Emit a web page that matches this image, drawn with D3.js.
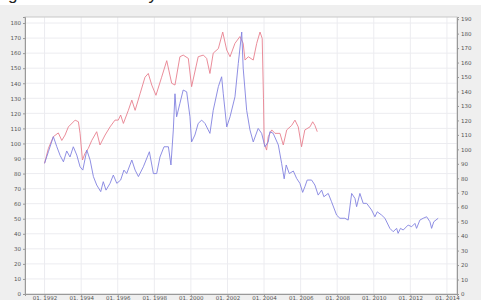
<!DOCTYPE html>
<html>
<head>
<meta charset="utf-8">
<script src="https://cdn.jsdelivr.net/npm/d3@7"></script>
<style>
  body { margin: 0; background: #efefef; }
  svg { display: block; }
  .tick text { font-family: "DejaVu Sans", sans-serif; font-size: 5.5px; fill: #555; }
</style>
</head>
<body>
<svg id="main"></svg>
<script>
// series data (decimal year, value)
let redYears = [1992.0, 1992.21, 1992.48, 1992.75, 1992.94, 1993.12, 1993.3, 1993.67, 1993.85, 1993.94,
  1994.07, 1994.21, 1994.39, 1994.58, 1994.85, 1995.03, 1995.31, 1995.58, 1995.85, 1996.03,
  1996.16, 1996.31, 1996.58, 1996.77, 1996.95, 1997.22, 1997.49, 1997.67, 1997.86, 1998.09,
  1998.4, 1998.68, 1998.95, 1999.13, 1999.4, 1999.58, 1999.86, 2000.04, 2000.4, 2000.68,
  2000.86, 2001.04, 2001.22, 2001.5, 2001.74, 2001.96, 2002.14, 2002.41, 2002.68, 2002.86,
  2002.96, 2003.14, 2003.41, 2003.6, 2003.78, 2003.9, 2003.97, 2004.01, 2004.14, 2004.23,
  2004.42, 2004.6, 2004.87, 2005.05, 2005.24, 2005.51, 2005.69, 2005.87, 2006.05, 2006.23,
  2006.51, 2006.66, 2006.78, 2006.91]
let redValues = [86.8, 96.7, 104.5, 107, 102, 105.6, 111, 115.5, 114.4, 106.7,
  89, 93.4, 96.7, 102, 107.8, 99, 105.6, 111, 115.5, 115.5,
  118.9, 113.3, 122, 128.8, 122, 133, 144, 146.5, 138.8, 132,
  144, 155, 140, 138.8, 157.6, 158.7, 156.5, 137.7, 157.6, 158.7,
  156.5, 146.5, 160, 163, 174, 162, 157.6, 166.5, 171, 166.5,
  155.4, 157.6, 155.4, 166.5, 174, 169.8, 130, 100, 95.6, 104.5,
  109, 106.7, 106.7, 99, 109, 112, 115.5, 111, 97.8, 109,
  111, 114.4, 112, 107.8]

let blueYears = [1992.0, 1992.21, 1992.48, 1992.67, 1992.85, 1993.03, 1993.21, 1993.39, 1993.57, 1993.76,
  1993.94, 1994.09, 1994.31, 1994.49, 1994.67, 1994.85, 1995.07, 1995.21, 1995.36, 1995.58,
  1995.76, 1995.95, 1996.16, 1996.34, 1996.49, 1996.77, 1996.95, 1997.13, 1997.4, 1997.73,
  1997.95, 1998.13, 1998.31, 1998.53, 1998.77, 1998.91, 1999.04, 1999.13, 1999.22, 1999.4,
  1999.58, 1999.77, 1999.95, 2000.04, 2000.22, 2000.4, 2000.59, 2000.77, 2001.04, 2001.22,
  2001.5, 2001.68, 2001.77, 2001.96, 2002.14, 2002.41, 2002.59, 2002.78, 2002.86, 2003.05,
  2003.23, 2003.41, 2003.68, 2003.87, 2004.05, 2004.23, 2004.32, 2004.5, 2004.78, 2004.96,
  2005.1, 2005.21, 2005.38, 2005.6, 2005.78, 2005.96, 2006.11, 2006.23, 2006.36, 2006.6,
  2006.78, 2006.96, 2007.15, 2007.27, 2007.51, 2007.69, 2007.97, 2008.15, 2008.42, 2008.6,
  2008.79, 2008.97, 2009.06, 2009.24, 2009.42, 2009.61, 2009.88, 2010.06, 2010.19, 2010.43,
  2010.61, 2010.88, 2011.06, 2011.25, 2011.33, 2011.46, 2011.61, 2011.88, 2012.07, 2012.25,
  2012.34, 2012.52, 2012.7, 2012.89, 2013.07, 2013.16, 2013.28, 2013.52]
let blueValues = [86.8, 94.5, 104.5, 97.8, 92, 87.8, 95, 91, 97.8, 92.3,
  84.5, 82.3, 95.6, 89, 78, 72.4, 68, 74.6, 69, 73.5,
  79, 73.5, 75.7, 82.3, 80, 89, 82.3, 78, 84.5, 94.5,
  80, 80, 91, 97.8, 97.8, 85.7, 109, 133, 117.7, 126.6,
  135.5, 134.3, 117.7, 101, 105.6, 113.3, 115.5, 113.3, 106.7, 122,
  137.7, 144.3, 133, 111, 117.7, 131, 153, 174, 150, 122,
  109, 101, 110, 106.7, 97.8, 101, 107.8, 106.7, 99, 86.8,
  76.5, 85.7, 80, 81.7, 76.8, 73.5, 67.5, 71.2, 75.7, 75.7,
  72.4, 65.7, 69, 64.6, 66.8, 61.3, 52.4, 50.3, 50.3, 49.1,
  66.8, 63.5, 58, 66.8, 60.2, 60.2, 55.8, 51.3, 54.6, 52.4,
  50.3, 43.6, 41.4, 43.6, 40.3, 43.6, 42.5, 45.8, 44.7, 46.9,
  43.6, 49.1, 50.3, 51.3, 48, 43.6, 48, 50.3]

let xTickYears = [1992, 1994, 1996, 1998, 2000, 2002, 2004, 2006, 2008, 2010, 2012, 2014]
let leftTicks = d3.range(0, 181, 10)
let rightTicks = d3.range(0, 191, 10)

let width = 481
let height = 300
let plotLeft = 25, plotRight = 457, plotTop = 17, plotBottom = 294

let svg = d3.select('#main').attr('width', width).attr('height', height)

// decimal year -> Date
const toDate = y => {
    let yr = Math.floor(y)
    let start = new Date(yr, 0, 1), end = new Date(yr + 1, 0, 1)
    return new Date(start.getTime() + (y - yr) * (end - start))
}

let xScale = d3.scaleTime()
    .domain([toDate(1990.93), toDate(2014.55)])
    .range([plotLeft, plotRight])
let yLeft = d3.scaleLinear().domain([0, 184]).range([plotBottom, plotTop])
let yRight = d3.scaleLinear().domain([0, 191.5]).range([plotBottom, plotTop])

// background + title strip
svg.append('rect').attr('width', width).attr('height', height).attr('fill', '#efefef')
svg.append('rect').attr('width', width).attr('height', 5).attr('fill', '#fff')
svg.append('text')
    .attr('x', 0).attr('y', 0)
    .attr('font-family', 'Liberation Sans, sans-serif')
    .attr('font-size', 17)
    .attr('fill', '#222')
    .attr('textLength', 157)
    .attr('lengthAdjust', 'spacing')
    .text('Figure 1. Rebased index monthly')

svg.append('rect')
    .attr('x', plotLeft).attr('y', plotTop)
    .attr('width', plotRight - plotLeft).attr('height', plotBottom - plotTop)
    .attr('fill', '#fff')

// grid
let xTicks = xTickYears.map(y => new Date(y, 0, 1))
svg.append('g').selectAll('line').data(xTicks).enter().append('line')
    .attr('x1', d => xScale(d)).attr('x2', d => xScale(d))
    .attr('y1', plotTop).attr('y2', plotBottom)
    .attr('stroke', '#ececf0').attr('stroke-width', 1)
svg.append('g').selectAll('line').data(leftTicks.slice(1)).enter().append('line')
    .attr('x1', plotLeft).attr('x2', plotRight)
    .attr('y1', d => yLeft(d)).attr('y2', d => yLeft(d))
    .attr('stroke', '#ececf0').attr('stroke-width', 1)

svg.append('rect')
    .attr('x', plotLeft).attr('y', plotTop)
    .attr('width', plotRight - plotLeft).attr('height', plotBottom - plotTop)
    .attr('fill', 'none').attr('stroke', '#c8c8c8')

// lines
const line = d3.line().x(d => xScale(toDate(d[0]))).y(d => yLeft(d[1]))
svg.append('path')
    .datum(redYears.map((y, i) => [y, redValues[i]]))
    .attr('d', line).attr('fill', 'none')
    .attr('stroke', '#e8808e').attr('stroke-width', 0.9)
svg.append('path')
    .datum(blueYears.map((y, i) => [y, blueValues[i]]))
    .attr('d', line).attr('fill', 'none')
    .attr('stroke', '#8282e0').attr('stroke-width', 0.9)

// axes
let xAxis = d3.axisBottom(xScale).tickValues(xTicks).tickFormat(d3.timeFormat('01. %Y'))
    .tickSize(2).tickPadding(1)
let gx = svg.append('g').attr('transform', `translate(0, ${plotBottom})`).call(xAxis)
gx.selectAll('text').attr('dy', '0.5em')

svg.append('g').attr('transform', `translate(${plotLeft}, 0)`)
    .call(d3.axisLeft(yLeft).tickValues(leftTicks).tickSize(2).tickPadding(2))
svg.append('g').attr('transform', `translate(${plotRight}, 0)`)
    .call(d3.axisRight(yRight).tickValues(rightTicks).tickSize(2).tickPadding(2))

svg.selectAll('.domain').attr('stroke', '#999')
svg.selectAll('.tick line').attr('stroke', '#999')
</script>
</body>
</html>
